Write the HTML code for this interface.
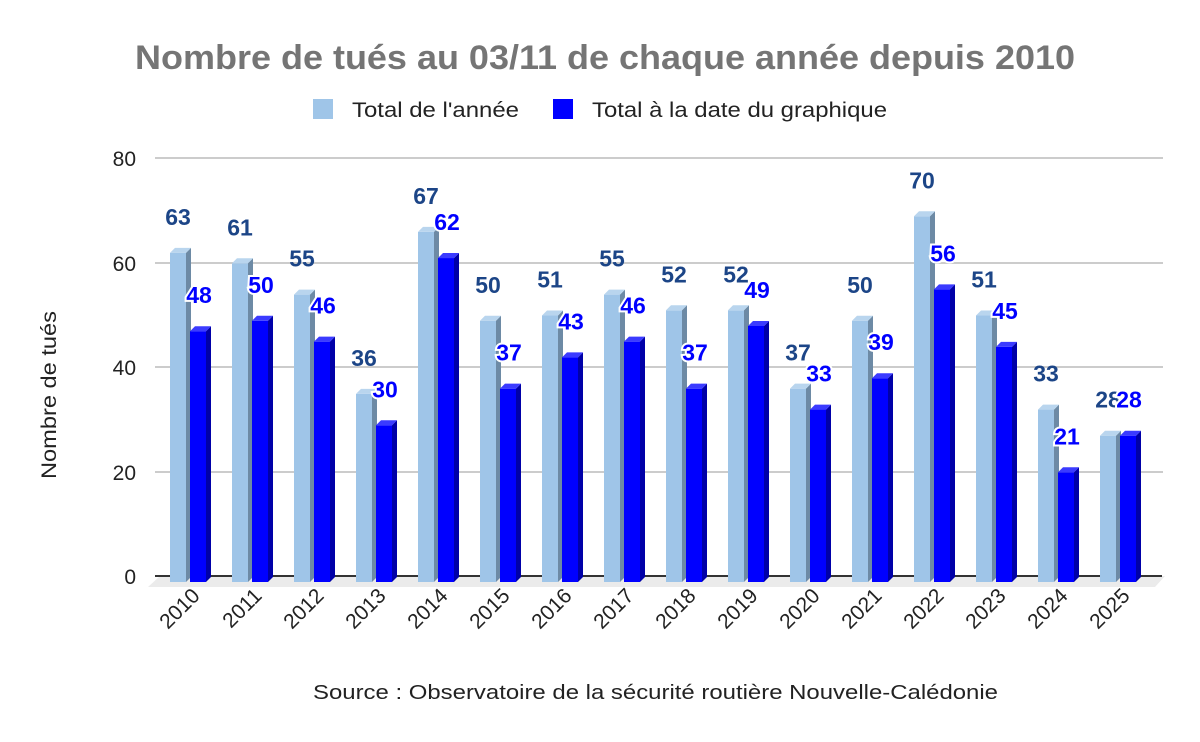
<!DOCTYPE html>
<html><head><meta charset="utf-8"><style>
body{margin:0;background:#fff;}
svg{display:block;font-family:"Liberation Sans",Arial,sans-serif;}
</style></head><body>
<svg id="c" width="1200" height="742" viewBox="0 0 1200 742">
<rect width="1200" height="742" fill="#fff"/>
<text x="135" y="69" textLength="940" lengthAdjust="spacingAndGlyphs" font-size="34" font-weight="bold" fill="#757575">Nombre de tués au 03/11 de chaque année depuis 2010</text>
<rect x="313" y="99" width="20" height="20" fill="#9fc5e8"/>
<text x="352" y="117" textLength="167" lengthAdjust="spacingAndGlyphs" font-size="21" fill="#222">Total de l'année</text>
<rect x="553" y="99" width="20" height="20" fill="#0000ff"/>
<text x="592" y="117" textLength="295" lengthAdjust="spacingAndGlyphs" font-size="21" fill="#222">Total à la date du graphique</text>
<text transform="translate(56,395) rotate(-90)" text-anchor="middle" textLength="168" lengthAdjust="spacingAndGlyphs" font-size="21" fill="#222">Nombre de tués</text>
<text x="313" y="699" textLength="685" lengthAdjust="spacingAndGlyphs" font-size="20" fill="#222">Source : Observatoire de la sécurité routière Nouvelle-Calédonie</text>
<g font-size="21" fill="#222" text-anchor="end">
<text x="136" y="584">0</text><text x="136" y="480">20</text><text x="136" y="375">40</text><text x="136" y="271">60</text><text x="136" y="166">80</text>
</g>
<g stroke="#cccccc" stroke-width="2">
<line x1="155" y1="472" x2="1163" y2="472"/><line x1="155" y1="367" x2="1163" y2="367"/><line x1="155" y1="263" x2="1163" y2="263"/><line x1="155" y1="158" x2="1163" y2="158"/>
</g>
<polygon points="160,576 1165,576 1155,587 148,587" fill="#ebebeb"/>
<line x1="155" y1="576" x2="1162" y2="576" stroke="#333" stroke-width="2"/>
<g id="bars"></g>
</svg>
<script>
var L=[63,61,55,36,67,50,51,55,52,52,37,50,70,51,33,28];
var D=[48,50,46,30,62,37,43,46,37,49,33,39,56,45,21,28];
var k=5.225,B=582,g=document.getElementById('bars'),s='',lab='';
function bar(x,v,f,sd,tp){var t=B-v*k;
return '<rect x="'+x+'" y="'+t+'" width="16" height="'+(v*k)+'" fill="'+f+'"/>'+
'<polygon points="'+(x+16)+','+t+' '+(x+21)+','+(t-5)+' '+(x+21)+','+(B-5)+' '+(x+16)+','+B+'" fill="'+sd+'"/>'+
'<polygon points="'+x+','+t+' '+(x+5)+','+(t-5)+' '+(x+21)+','+(t-5)+' '+(x+16)+','+t+'" fill="'+tp+'"/>';}
for(var i=0;i<16;i++){var x=170+62*i;
s+=bar(x,L[i],'#9fc5e8','#6d8aa5','#b9d5ee');
s+=bar(x+20,D[i],'#0000ff','#0000a8','#3b3bff');
lab+='<text x="'+(x+8)+'" y="'+(B-L[i]*k-28)+'" text-anchor="middle" font-size="23" font-weight="bold" fill="#1c4587">'+L[i]+'</text>';
lab+='<text x="'+(x+29)+'" y="'+(B-D[i]*k-28)+'" text-anchor="middle" font-size="23" font-weight="bold" fill="#0000ff" stroke="#fff" stroke-width="4" paint-order="stroke">'+D[i]+'</text>';
lab+='<text transform="translate('+(x+31)+',597) rotate(-45)" text-anchor="end" font-size="21" fill="#222">'+(2010+i)+'</text>';}
g.innerHTML=s+lab;
</script>
</body></html>
